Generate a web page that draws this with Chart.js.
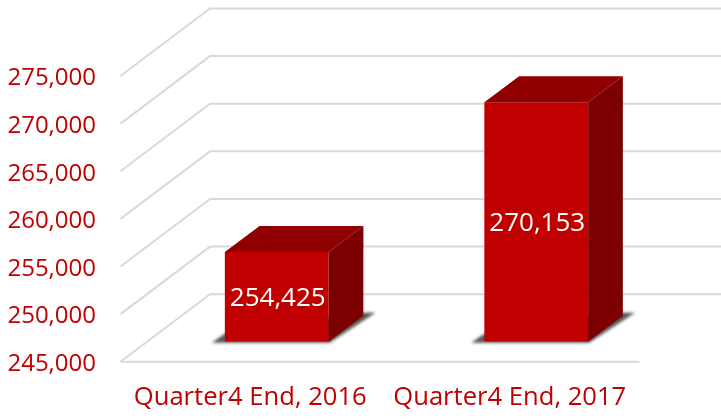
<!DOCTYPE html>
<html>
<head>
<meta charset="utf-8">
<style>
html,body{margin:0;padding:0;background:#fff}
#wrap{width:721px;height:419px;position:relative}
</style>
<script src="https://cdn.jsdelivr.net/npm/chart.js@4"></script>
</head>
<body>
<div id="wrap"><canvas id="c" width="721" height="419"></canvas></div>
<script>
const categories = ['Quarter4 End, 2016', 'Quarter4 End, 2017'];
const values = [254425, 270153];
const valueLabels = ['254,425', '270,153'];
const axisMin = 245000;
const axisMax = 275000;
const axisStep = 5000;

const RED = '#C00000', TOP = '#900000', SIDE = '#7D0000', GRID = '#D9D9D9';
const FONT = '"Open Sans", sans-serif';
const WALL = {dx: 89.5, dy: -67.5};   // depth of the floor
const OFFSET = {dx: 26.5, dy: -20};   // where the bars stand on the floor
const DEPTH = {dx: 34.7, dy: -26};    // depth of each bar

const threeD = {
  id: 'threeD',
  beforeDatasetsDraw(chart) {
    const {ctx, chartArea: a, scales: {y}} = chart;
    ctx.save();
    ctx.strokeStyle = GRID;
    ctx.lineWidth = 2;
    ctx.lineJoin = 'miter';
    y.ticks.forEach(t => {
      const p = y.getPixelForValue(t.value);
      ctx.beginPath();
      ctx.moveTo(a.left, p);
      ctx.lineTo(a.left + WALL.dx, p + WALL.dy);
      ctx.lineTo(chart.width, p + WALL.dy);
      ctx.stroke();
    });
    const p0 = y.getPixelForValue(axisMin);
    ctx.beginPath();
    ctx.moveTo(a.left, p0);
    ctx.lineTo(a.right, p0);
    ctx.stroke();
    // cast shadows on the floor
    chart.getDatasetMeta(0).data.forEach(el => {
      const l = el.x - el.width / 2 + OFFSET.dx, r = el.x + el.width / 2 + OFFSET.dx;
      const b = el.base + OFFSET.dy;
      ctx.save();
      ctx.filter = 'blur(1.5px)';
      ctx.fillStyle = '#555';
      ctx.beginPath();
      ctx.moveTo(l - 13, b + 1);
      ctx.lineTo(r + 1, b + 1);
      ctx.lineTo(r + DEPTH.dx + 12, b + DEPTH.dy - 3);
      ctx.lineTo(r + DEPTH.dx - 4, b + DEPTH.dy - 3);
      ctx.lineTo(l, b - 8);
      ctx.closePath();
      ctx.fill();
      ctx.restore();
    });
    ctx.restore();
  },
  beforeDatasetDraw(chart) {
    chart.ctx.save();
    chart.ctx.translate(OFFSET.dx, OFFSET.dy);
  },
  afterDatasetDraw(chart) {
    const ctx = chart.ctx;
    chart.getDatasetMeta(0).data.forEach(el => {
      const l = el.x - el.width / 2, r = el.x + el.width / 2;
      ctx.fillStyle = TOP;
      ctx.beginPath();
      ctx.moveTo(l, el.y);
      ctx.lineTo(l + DEPTH.dx, el.y + DEPTH.dy);
      ctx.lineTo(r + DEPTH.dx, el.y + DEPTH.dy);
      ctx.lineTo(r, el.y);
      ctx.closePath();
      ctx.fill();
      ctx.fillStyle = SIDE;
      ctx.beginPath();
      ctx.moveTo(r, el.y);
      ctx.lineTo(r + DEPTH.dx, el.y + DEPTH.dy);
      ctx.lineTo(r + DEPTH.dx, el.base + DEPTH.dy);
      ctx.lineTo(r, el.base);
      ctx.closePath();
      ctx.fill();
    });
    ctx.fillStyle = '#fff';
    ctx.font = '26px ' + FONT;
    ctx.textAlign = 'center';
    ctx.textBaseline = 'middle';
    chart.getDatasetMeta(0).data.forEach((el, i) => {
      ctx.fillText(valueLabels[i], el.x + 1, (el.y + el.base) / 2 + 2);
    });
    ctx.restore();
  }
};

new Chart(document.getElementById('c'), {
  type: 'bar',
  data: {
    labels: categories,
    datasets: [{data: values, base: axisMin, backgroundColor: RED, borderWidth: 0, barPercentage: 0.4, categoryPercentage: 1}]
  },
  options: {
    responsive: false,
    animation: false,
    layout: {padding: {top: 76, right: 81.5, bottom: 0, left: 0}},
    plugins: {legend: {display: false}, tooltip: {enabled: false}, title: {display: false}},
    scales: {
      x: {
        grid: {display: false, drawTicks: false},
        border: {display: false},
        ticks: {color: RED, font: {family: FONT, size: 25.6}, padding: 21, maxRotation: 0, autoSkip: false},
        afterFit(s) { s.height = 57.3; }
      },
      y: {
        min: axisMin, max: axisMax,
        grid: {display: false, drawTicks: false},
        border: {display: false},
        ticks: {
          stepSize: axisStep, color: RED, padding: 24.5, labelOffset: 2.5,
          font: {family: FONT, size: 24},
          callback: v => v.toLocaleString('en-US')
        },
        afterFit(s) { s.width = 120.5; }
      }
    }
  },
  plugins: [threeD]
});
</script>
</body>
</html>
